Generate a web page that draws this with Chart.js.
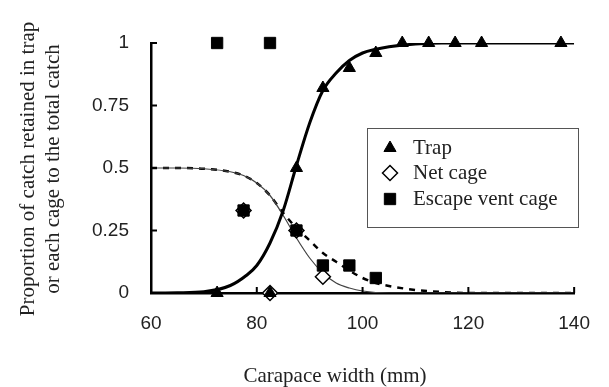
<!DOCTYPE html>
<html>
<head>
<meta charset="utf-8">
<script src="https://cdn.jsdelivr.net/npm/chart.js@4.4.1/dist/chart.umd.min.js"></script>
<style>
html,body{margin:0;padding:0;background:#fff;}
canvas{display:block;}
</style>
</head>
<body>
<canvas id="c" width="609" height="387"></canvas>
<script>
// ---- data ----
const xTicks = [60, 80, 100, 120, 140];
const yTicks = [0, 0.25, 0.5, 0.75, 1];
const yTickLabels = ['0', '0.25', '0.5', '0.75', '1'];
const xTitle = 'Carapace width (mm)';
const yTitle = ['Proportion of catch retained in trap', 'or each cage to the total catch'];
const seriesNames = ['Trap', 'Net cage', 'Escape vent cage'];

const trapX = [72.5, 82.5, 87.5, 92.5, 97.5, 102.5, 107.5, 112.5, 117.5, 122.5, 137.5];
const trapY = [0, 0, 0.5, 0.82, 0.9, 0.96, 1, 1, 1, 1, 1];
const netX = [77.5, 82.5, 87.5, 92.5];
const netY = [0.33, 0, 0.25, 0.065];
const ventX = [72.5, 77.5, 82.5, 87.5, 92.5, 97.5, 102.5];
const ventY = [1, 0.33, 1, 0.25, 0.11, 0.11, 0.06];

// fitted curves
const trapCurveX = [60, 65, 70, 75, 78, 80, 82.5, 85, 87.5, 90, 92.5, 95, 97.5, 100, 102.5, 105, 110, 115, 140];
const trapCurveY = [0, 0.001, 0.005, 0.03, 0.07, 0.11, 0.2, 0.33, 0.51, 0.68, 0.81, 0.88, 0.93, 0.96, 0.975, 0.985, 0.996, 1, 1];
const netCurveX = [60, 65, 70, 75, 77.5, 80, 82.5, 85, 87.5, 90, 92.5, 95, 97.5, 100, 105, 140];
const netCurveY = [0.5, 0.5, 0.497, 0.485, 0.47, 0.44, 0.39, 0.31, 0.22, 0.14, 0.08, 0.04, 0.02, 0.008, 0, 0];
const ventCurveX = [60, 65, 70, 75, 77.5, 80, 82.5, 85, 87.5, 90, 92.5, 95, 97.5, 100, 102.5, 105, 110, 115, 120, 140];
const ventCurveY = [0.5, 0.5, 0.497, 0.485, 0.47, 0.44, 0.39, 0.32, 0.26, 0.21, 0.16, 0.125, 0.09, 0.06, 0.04, 0.028, 0.012, 0.004, 0, 0];

const pts = (xs, ys) => xs.map((x, i) => ({x: x, y: ys[i]}));

const markerSets = [
  {label: seriesNames[0], order: 0, clip: false, data: pts(trapX, trapY), pointStyle: 'triangle', pointRadius: 7, backgroundColor: '#000', borderColor: '#000', borderWidth: 1},
  {label: seriesNames[1], order: 2, clip: false, data: pts(netX, netY), pointStyle: 'rectRot', pointRadius: 7.5, backgroundColor: '#fff', borderColor: '#000', borderWidth: 1.5},
  {label: seriesNames[2], order: 1, clip: false, data: pts(ventX, ventY), pointStyle: 'rect', pointRadius: 8, backgroundColor: '#000', borderColor: '#000', borderWidth: 1}
];

const curveSets = [
  {label: 'trapFit', order: 3, data: pts(trapCurveX, trapCurveY), showLine: true, pointRadius: 0, borderColor: '#000', borderWidth: 3, cubicInterpolationMode: 'monotone', fill: false},
  {label: 'netFit', order: 4, data: pts(netCurveX, netCurveY), showLine: true, pointRadius: 0, borderColor: '#444', borderWidth: 1.2, cubicInterpolationMode: 'monotone', fill: false},
  {label: 'ventFit', order: 4, data: pts(ventCurveX, ventCurveY), showLine: true, pointRadius: 0, borderColor: '#000', borderWidth: 2.5, borderDash: [6, 6], cubicInterpolationMode: 'monotone', fill: false}
];

const decor = {
  id: 'decor',
  afterDraw(chart) {
    const {ctx, chartArea, scales} = chart;
    const x = scales.x, y = scales.y;
    ctx.save();
    ctx.strokeStyle = '#000';
    ctx.lineWidth = 2;
    ctx.beginPath();
    yTicks.forEach(v => { const py = y.getPixelForValue(v); ctx.moveTo(chartArea.left, py); ctx.lineTo(chartArea.left + 6, py); });
    xTicks.forEach(v => { const px = x.getPixelForValue(v); ctx.moveTo(px, chartArea.bottom); ctx.lineTo(px, chartArea.bottom - 6); });
    ctx.stroke();

    // axis titles
    ctx.fillStyle = '#222';
    ctx.font = '21px "Liberation Serif"';
    ctx.textAlign = 'center';
    ctx.textBaseline = 'middle';
    ctx.fillText(xTitle, 335, 376);
    [28, 53].forEach((cx, i) => {
      ctx.save();
      ctx.translate(cx, 169);
      ctx.rotate(-Math.PI / 2);
      ctx.fillText(yTitle[i], 0, 0);
      ctx.restore();
    });

    // legend
    ctx.fillStyle = '#fff';
    ctx.fillRect(367.5, 128.5, 211, 99);
    ctx.strokeStyle = '#555';
    ctx.lineWidth = 1;
    ctx.strokeRect(367.5, 128.5, 211, 99);
    const rows = [148, 173, 199];
    markerSets.forEach((ds, i) => {
      ctx.fillStyle = ds.backgroundColor;
      ctx.strokeStyle = ds.borderColor;
      ctx.lineWidth = ds.borderWidth;
      Chart.helpers.drawPoint(ctx, {pointStyle: ds.pointStyle, radius: ds.pointRadius, rotation: 0, borderWidth: ds.borderWidth}, 390, rows[i]);
      ctx.fillStyle = '#222';
      ctx.font = '21px "Liberation Serif"';
      ctx.textAlign = 'left';
      ctx.textBaseline = 'middle';
      ctx.fillText(ds.label, 413, rows[i]);
    });
    ctx.restore();
  }
};

new Chart(document.getElementById('c'), {
  type: 'scatter',
  data: {datasets: [...curveSets, ...markerSets]},
  options: {
    responsive: false,
    animation: false,
    devicePixelRatio: 1,
    layout: {padding: {top: 43, right: 31, left: 0, bottom: 0}},
    plugins: {legend: {display: false}, tooltip: {enabled: false}},
    scales: {
      x: {
        type: 'linear', min: 60, max: 140,
        afterBuildTicks: s => { s.ticks = xTicks.map(v => ({value: v})); },
        afterFit: s => { s.height = 94; },
        grid: {display: true, drawOnChartArea: false, drawTicks: false},
        border: {display: true, color: '#000', width: 2.5},
        ticks: {padding: 19, color: '#222', font: {family: '"Liberation Sans"', size: 19}, maxRotation: 0,
                callback: v => String(v)}
      },
      y: {
        type: 'linear', min: 0, max: 1,
        afterBuildTicks: s => { s.ticks = yTicks.map(v => ({value: v})); },
        afterFit: s => { s.width = 151; },
        grid: {display: true, drawOnChartArea: false, drawTicks: false},
        border: {display: true, color: '#000', width: 2.5},
        ticks: {padding: 22, color: '#222', font: {family: '"Liberation Sans"', size: 19},
                callback: v => yTickLabels[yTicks.indexOf(v)]}
      }
    }
  },
  plugins: [decor]
});
</script>
</body>
</html>
